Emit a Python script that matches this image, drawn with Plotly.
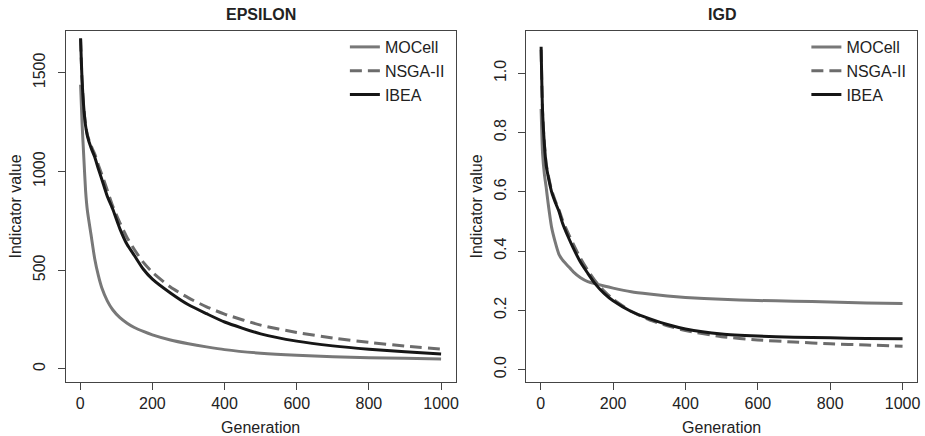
import plotly.graph_objects as go

gens = [1, 5, 10, 15, 20, 30, 40, 50, 60, 75, 90, 110, 130, 150, 175, 200,
        250, 300, 350, 400, 500, 600, 700, 800, 900, 1000]

eps_mocell = [1440, 1250, 1070, 900, 800, 680, 560, 475, 410, 345, 300, 260, 232,
              210, 190, 173, 147, 128, 112, 98, 80, 69, 62, 57, 54, 51]
eps_nsga = [1670, 1460, 1320, 1235, 1185, 1130, 1090, 1035, 985, 905, 825, 740, 665,
            605, 540, 490, 415, 360, 315, 278, 222, 185, 157, 135, 116, 101]
eps_ibea = [1675, 1470, 1320, 1230, 1180, 1120, 1075, 1015, 960, 875, 810, 710, 630,
            575, 505, 455, 385, 325, 280, 238, 178, 141, 117, 100, 87, 76]

igd_mocell = [0.88, 0.73, 0.66, 0.615, 0.565, 0.48, 0.43, 0.39, 0.37, 0.35, 0.33, 0.31,
              0.297, 0.29, 0.282, 0.275, 0.263, 0.255, 0.248, 0.243, 0.237, 0.233,
              0.231, 0.228, 0.225, 0.223]
igd_nsga = [1.08, 0.87, 0.76, 0.695, 0.66, 0.605, 0.57, 0.54, 0.505, 0.462, 0.423, 0.375,
            0.335, 0.30, 0.265, 0.237, 0.197, 0.168, 0.148, 0.132, 0.111, 0.10, 0.093,
            0.087, 0.083, 0.079]
igd_ibea = [1.09, 0.87, 0.76, 0.69, 0.655, 0.60, 0.565, 0.535, 0.495, 0.45, 0.41, 0.362,
            0.325, 0.29, 0.257, 0.232, 0.196, 0.172, 0.152, 0.137, 0.12, 0.113, 0.109,
            0.107, 0.105, 0.104]

series_names = ["MOCell", "NSGA-II", "IBEA"]
panel_titles = ["EPSILON", "IGD"]
x_ticks = [0, 200, 400, 600, 800, 1000]
eps_ticks = [0, 500, 1000, 1500]
igd_ticks = [0.0, 0.2, 0.4, 0.6, 0.8, 1.0]
igd_ticklabels = ["0.0", "0.2", "0.4", "0.6", "0.8", "1.0"]

styles = [
    dict(color="#787878", width=3, dash="solid"),
    dict(color="#6c6c6c", width=3, dash="12px,6px"),
    dict(color="#161616", width=3, dash="solid"),
]

W, H = 925, 436
FONT = "Liberation Sans, Arial, sans-serif"
TXT = "#222222"

fig = go.Figure()
for i, (name, ys) in enumerate(zip(series_names, [eps_mocell, eps_nsga, eps_ibea])):
    fig.add_trace(go.Scatter(x=gens, y=ys, mode="lines", name=name,
                             line=dict(**styles[i], shape="spline", smoothing=0.6),
                             xaxis="x", yaxis="y", legend="legend"))
for i, (name, ys) in enumerate(zip(series_names, [igd_mocell, igd_nsga, igd_ibea])):
    fig.add_trace(go.Scatter(x=gens, y=ys, mode="lines", name=name,
                             line=dict(**styles[i], shape="spline", smoothing=0.6),
                             xaxis="x2", yaxis="y2", legend="legend2"))


def px_x(p):
    return p / W


def px_y(p):
    return 1 - p / H


axis_common = dict(showline=True, mirror=True, linecolor="#444444", linewidth=1,
                   ticks="outside", ticklen=7, tickcolor="#444444", tickwidth=1,
                   showgrid=False, zeroline=False,
                   tickfont=dict(family=FONT, size=16, color=TXT))

xdom1 = [px_x(66), px_x(457)]
xdom2 = [px_x(528), px_x(920)]
ydom = [px_y(382), px_y(31)]

fig.update_layout(
    width=W, height=H,
    margin=dict(l=0, r=0, t=0, b=0),
    paper_bgcolor="white", plot_bgcolor="white",
    font=dict(family=FONT, size=16, color=TXT),
    xaxis=dict(domain=xdom1, range=[-40, 1040], tickvals=x_ticks, anchor="y",
               title=dict(text="Generation", standoff=12, font=dict(size=16)), **axis_common),
    yaxis=dict(domain=ydom, range=[-66, 1712], tickvals=eps_ticks, anchor="x", tickangle=-90,
               ticklabelstandoff=6,
               title=dict(text="Indicator value", standoff=5, font=dict(size=16)), **axis_common),
    xaxis2=dict(domain=xdom2, range=[-40, 1040], tickvals=x_ticks, anchor="y2",
                title=dict(text="Generation", standoff=12, font=dict(size=16)), **axis_common),
    yaxis2=dict(domain=ydom, range=[-0.042, 1.143], tickvals=igd_ticks, ticktext=igd_ticklabels,
                anchor="x2", tickangle=-90, ticklabelstandoff=6,
                title=dict(text="Indicator value", standoff=5, font=dict(size=16)), **axis_common),
    legend=dict(x=px_x(346), y=px_y(30), xanchor="left", yanchor="top",
                bgcolor="rgba(0,0,0,0)", borderwidth=0, font=dict(size=16, color=TXT),
                itemclick=False),
    legend2=dict(x=px_x(809), y=px_y(30), xanchor="left", yanchor="top",
                 bgcolor="rgba(0,0,0,0)", borderwidth=0, font=dict(size=16, color=TXT),
                 itemclick=False),
    annotations=[
        dict(text="<b>%s</b>" % panel_titles[0], x=(xdom1[0] + xdom1[1]) / 2, y=px_y(15),
             xref="paper", yref="paper", showarrow=False, font=dict(size=16, color=TXT),
             xanchor="center", yanchor="middle"),
        dict(text="<b>%s</b>" % panel_titles[1], x=(xdom2[0] + xdom2[1]) / 2, y=px_y(15),
             xref="paper", yref="paper", showarrow=False, font=dict(size=16, color=TXT),
             xanchor="center", yanchor="middle"),
    ],
)

fig.write_html("out.html")
